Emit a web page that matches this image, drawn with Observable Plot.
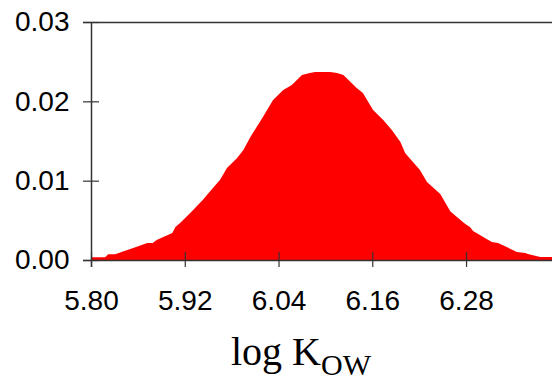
<!DOCTYPE html>
<html><head><meta charset="utf-8">
<script src="https://cdn.jsdelivr.net/npm/d3@7"></script>
<script src="https://cdn.jsdelivr.net/npm/@observablehq/plot@0.6"></script>
<style>body{margin:0;background:#fff;overflow:hidden}</style>
</head><body><div id="chart"></div>
<script>
const logKow = [5.800,5.818,5.822,5.831,5.840,5.854,5.872,5.879,5.884,5.904,5.908,5.914,5.927,5.943,5.956,5.965,5.974,5.987,5.995,6.004,6.020,6.033,6.046,6.057,6.070,6.080,6.087,6.106,6.115,6.123,6.140,6.148,6.161,6.174,6.185,6.196,6.202,6.221,6.230,6.247,6.260,6.279,6.285,6.289,6.302,6.313,6.321,6.332,6.345,6.356,6.359,6.375,6.390];
const density = [0.00034,0.00034,0.00072,0.00072,0.00105,0.00151,0.00214,0.00214,0.00252,0.0034,0.00416,0.00466,0.00592,0.00756,0.00908,0.01008,0.0116,0.01286,0.01387,0.0155,0.01803,0.02018,0.02143,0.02206,0.02332,0.02357,0.0237,0.0237,0.02357,0.02332,0.02168,0.02105,0.01891,0.01765,0.01639,0.01487,0.01349,0.01135,0.00983,0.00832,0.0061,0.00454,0.00416,0.00366,0.0029,0.00227,0.00214,0.00164,0.00101,0.00088,0.00076,0.00038,0.00038];
const xTicks = [5.80, 5.92, 6.04, 6.16, 6.28];
const yTicks = [0.00, 0.01, 0.02, 0.03];
const xDomain = [5.80, 6.39];
const yDomain = [0, 0.03];
const titleMain = "log K";
const titleSub = "OW";

const data = logKow.map((x, i) => ({x, y: density[i]}));
const fmt = d3.format(".2f");
const axisColor = "#333";

const chart = Plot.plot({
  width: 552, height: 380,
  marginLeft: 91, marginRight: 0, marginTop: 22, marginBottom: 120,
  style: {fontFamily: "'Liberation Sans', Arial, sans-serif", fontSize: "28px", background: "#fff", color: "#000", overflow: "visible"},
  x: {domain: xDomain},
  y: {domain: yDomain},
  marks: [
    Plot.areaY(data, {x: "x", y: "y", fill: "#ff0000", curve: "linear"}),
    Plot.ruleY([yDomain[0]], {stroke: axisColor, strokeWidth: 1.5, insetLeft: -8}),
    Plot.ruleY([yDomain[1]], {stroke: axisColor, strokeWidth: 1.5, insetLeft: -8}),
    Plot.ruleX([xDomain[0]], {stroke: axisColor, strokeWidth: 1.5, insetBottom: -7}),
    Plot.tickY(yTicks, {y: d => d, stroke: axisColor, strokeWidth: 1.2, dx: -8, insetRight: 445}),
    Plot.tickX(xTicks, {x: d => d, stroke: axisColor, strokeWidth: 1.2, dy: 7, insetTop: 223}),
    Plot.axisY({ticks: yTicks, tickFormat: fmt, tickSize: 0, tickPadding: 22, label: null}),
    Plot.axisX({ticks: xTicks, tickFormat: fmt, tickSize: 0, tickPadding: 30, label: null})
  ]
});
document.getElementById("chart").appendChild(chart);

const svg = d3.select(chart);
const t = svg.append("text")
  .attr("x", 231).attr("y", 365)
  .attr("text-anchor", "start")
  .attr("font-family", "'Liberation Serif', 'Times New Roman', serif")
  .attr("font-size", 40).attr("fill", "#000");
t.append("tspan").text(titleMain);
t.append("tspan").attr("dy", 10).attr("font-size", 30).text(titleSub);
</script>
</body></html>
